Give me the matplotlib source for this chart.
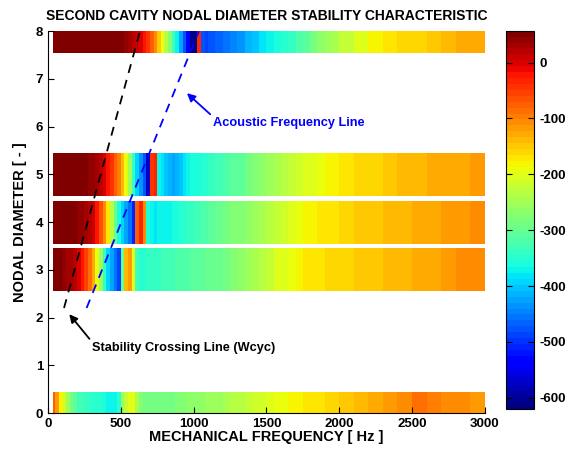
import numpy as np
import matplotlib
matplotlib.use("Agg")
import matplotlib.pyplot as plt

plt.rcParams['font.family'] = ['Liberation Sans', 'DejaVu Sans']
plt.rcParams['font.weight'] = 'bold'
plt.rcParams['axes.unicode_minus'] = False

# frequency cell edges [Hz]: 25 Hz up to 1100, 50 Hz up to 2000, 100 Hz up to 3000
freq_edges = np.concatenate([[35.0], np.arange(50, 1100, 25), np.arange(1100, 2000, 50),
                             np.arange(2000, 3001, 100)])

nodal_diameters = [8, 5, 4, 3, 0]

# damping / stability value per frequency cell for each nodal diameter
nd8 = [50, 55, 55] + [57] * 17 + [
    45, 35, 25, 12, -5, -25, -45, -75, -110, -150, -190, -230, -280, -330, -370,
    -420, -480, -540, -600, -612, -35, -480, -488,
    -480, -470, -455, -445, -430, -415, -400, -385, -370, -360, -350, -335, -320,
    -305, -290, -270, -255, -240,
    -220, -200, -180, -170, -165, -160, -145, -140, -128, -125]
nd5 = [55] + [57] * 9 + [
    45, 38, 30, 20, 0, -20, -45, -70, -100, -140, -190, -260, -340, -390, -440,
    -480, -570, -40, -30, -370, -385, -400, -415, -420, -415, -405, -385, -370,
    -365, -362, -358, -355, -350,
    -340, -330, -320, -312, -305, -290, -280, -270, -258, -245, -235, -225, -215,
    -205, -198, -192, -185, -178,
    -170, -165, -160, -150, -143, -138, -133, -128, -124, -120]
nd4 = [55] + [57] * 6 + [
    45, 38, 32, 25, 5, -25, -60, -110, -170, -230, -300, -360, -390, -420, -460,
    -510, -70, -35, -110, -365,
    -375, -378, -375, -372, -370, -367, -362, -358, -350, -345, -340, -335, -330,
    -325, -320, -315,
    -305, -298, -290, -280, -272, -262, -252, -240, -230, -220, -210, -200, -194,
    -185, -180, -175, -172, -168,
    -160, -152, -148, -140, -135, -128, -125, -122, -118, -108]
nd3 = [
    50, 55, 50, 45, 35, 30, 25, 0, -20, -50, -90, -130, -190, -260, -340, -390,
    -420, -460, -490, -300, -140, -120, -200, -330, -345, -345, -342,
    -340, -338, -335, -333, -330, -327, -325, -322, -320, -318, -315, -312, -310,
    -307, -305, -302,
    -298, -293, -285, -275, -265, -255, -245, -232, -220, -205, -197, -195, -185,
    -175, -170, -168, -165, -162,
    -158, -150, -145, -140, -135, -128, -124, -115, -110, -108]
nd0 = [
    -70, -120, -180, -210, -250, -285, -310, -325, -330, -335, -340, -345, -348,
    -355, -365, -370, -372, -372, -350, -260, -225, -200, -195, -240, -280, -290,
    -290, -290, -288, -288, -285, -285, -283, -282, -280, -278, -272, -270, -268,
    -266, -264, -262, -260,
    -256, -250, -242, -236, -230, -222, -215, -208, -198, -196, -188, -184, -178,
    -172, -170, -166, -162, -160,
    -152, -142, -132, -120, -108, -90, -95, -105, -110, -115]
band_values = [nd8, nd5, nd4, nd3, nd0]

# acoustic frequency line and stability crossing line
acoustic_freq = [265, 1036]
acoustic_nd = [2.2, 8.0]
crossing_freq = [110, 632]
crossing_nd = [2.2, 8.0]

fig = plt.figure(figsize=(5.77, 4.53), dpi=100)
ax = fig.add_axes([0.0832, 0.0883, 0.757, 0.843])
cax = fig.add_axes([0.8764, 0.0971, 0.0496, 0.835])

cmap = plt.get_cmap('jet', 64)
vmin, vmax = -620, 57
half = 0.45
for nd, vals in zip(nodal_diameters, band_values):
    c = np.array(vals, dtype=float)[np.newaxis, :]
    mesh = ax.pcolormesh(freq_edges, [nd - half, nd + half], c, cmap=cmap,
                         vmin=vmin, vmax=vmax, shading='flat',
                         edgecolors='none', antialiased=False)

ax.plot(crossing_freq, crossing_nd, 'k--', lw=1.3, dashes=(5, 4))
ax.plot(acoustic_freq, acoustic_nd, '--', color='#0000ff', lw=1.3, dashes=(5, 4))

ax.annotate('Acoustic Frequency Line', xy=(954, 6.70), xytext=(1133, 6.08),
            color='#0000ff', fontsize=9.2, fontweight='bold', va='center', ha='left',
            arrowprops=dict(arrowstyle='-|>', color='#0000ff', lw=1.3,
                            mutation_scale=12, shrinkA=0, shrinkB=0,
                            relpos=(0.0, 1.0)))
ax.annotate('Stability Crossing Line (Wcyc)', xy=(146, 2.07), xytext=(300, 1.37),
            color='k', fontsize=9.2, fontweight='bold', va='center', ha='left',
            arrowprops=dict(arrowstyle='-|>', color='k', lw=1.3,
                            mutation_scale=12, shrinkA=0, shrinkB=0,
                            relpos=(0.0, 1.0)))

ax.set_xlim(0, 3000)
ax.set_ylim(0, 8)
ax.set_xticks(np.arange(0, 3001, 500))
ax.set_yticks(np.arange(0, 9, 1))
ax.tick_params(direction='in', length=4, labelsize=9.5, width=0.8)
for s in ['top', 'right']:
    ax.spines[s].set_visible(False)
ax.set_xlabel('MECHANICAL FREQUENCY [ Hz ]', fontsize=10.5, fontweight='bold', labelpad=0)
ax.set_ylabel('NODAL DIAMETER [ - ]', fontsize=10.5, fontweight='bold', labelpad=6)
ax.set_title('SECOND CAVITY NODAL DIAMETER STABILITY CHARACTERISTIC',
             fontsize=10, fontweight='bold', pad=8)

cb = fig.colorbar(mesh, cax=cax)
cb.set_ticks(np.arange(-600, 1, 100))
cax.tick_params(direction='in', length=4, labelsize=9.5, width=0.8, left=True, right=True)
cb.outline.set_linewidth(0.8)

fig.savefig('out.png', dpi=100)
